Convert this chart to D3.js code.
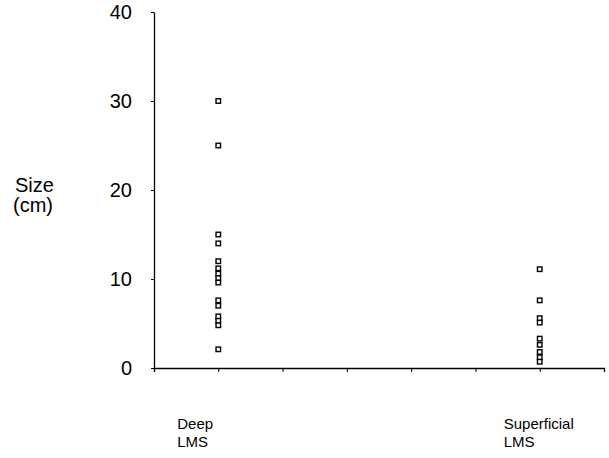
<!DOCTYPE html>
<html>
<head>
<meta charset="utf-8">
<script src="https://cdn.jsdelivr.net/npm/d3@7"></script>
<style>
  body { margin: 0; background: #fff; }
  text { font-family: Arial, "Liberation Sans", sans-serif; fill: #000; }
</style>
</head>
<body>
<svg id="chart"></svg>
<script>
// values
const groups = ["Deep LMS", "Superficial LMS"];
const groupPos = [1, 6];
const labelShift = [-41, -36];
const deepSizes = [30, 25, 15, 14, 12, 11.2, 10.6, 10.1, 9.6, 7.6, 7.0, 5.8, 5.3, 4.8, 2.1];
const superficialSizes = [11.1, 7.6, 5.6, 5.1, 3.3, 2.6, 1.8, 1.2, 0.7];
const yTicks = [0, 10, 20, 30, 40];

const canvWidth = 609, canvHeight = 458;
const margin = { top: 12, right: 5, bottom: 90, left: 154 };
const width = canvWidth - margin.left - margin.right;
const height = canvHeight - margin.top - margin.bottom;

const svg = d3.select("#chart")
    .attr("width", canvWidth)
    .attr("height", canvHeight)
    .append("g")
    .attr("transform", "translate(" + margin.left + "," + margin.top + ")");

const x = d3.scaleLinear().domain([0, 7]).range([0, width]);
const y = d3.scaleLinear().domain([0, 40]).range([height, 0]);

// x axis, ticks only
const xAxis = svg.append("g")
    .attr("transform", "translate(0," + height + ")")
    .call(d3.axisBottom(x).ticks(7).tickSize(4).tickFormat(""));
xAxis.select(".domain").attr("stroke-width", 1.3);

// y axis
const yAxis = svg.append("g")
    .call(d3.axisLeft(y).tickValues(yTicks).tickSize(3).tickSizeOuter(0).tickPadding(19));
yAxis.select(".domain").attr("stroke-width", 1.3);
yAxis.selectAll("text").style("font-size", "20px");

// points
const points = [];
deepSizes.forEach(v => points.push({ g: 0, v: v }));
superficialSizes.forEach(v => points.push({ g: 1, v: v }));

const s = 4.5;
svg.selectAll(".pt")
    .data(points)
    .enter().append("rect")
    .attr("class", "pt")
    .attr("x", d => x(groupPos[d.g]) - s / 2)
    .attr("y", d => y(d.v) - s / 2)
    .attr("width", s)
    .attr("height", s)
    .attr("fill", "#fff")
    .attr("stroke", "#000")
    .attr("stroke-width", 1.4);

// category labels under the axis
const cats = svg.selectAll(".cat")
    .data(groups)
    .enter().append("text")
    .attr("class", "cat")
    .attr("x", (d, i) => x(groupPos[i]) + labelShift[i])
    .attr("y", height + 61)
    .style("font-size", "15px");
cats.append("tspan").text(d => d.split(" ")[0]);
cats.append("tspan")
    .attr("x", (d, i) => x(groupPos[i]) + labelShift[i])
    .attr("dy", 18)
    .text(d => d.split(" ")[1]);

// y axis title
const yt = d3.select("#chart").append("text")
    .attr("x", 15)
    .attr("y", 192)
    .style("font-size", "20px");
yt.append("tspan").text("Size");
yt.append("tspan").attr("x", 13).attr("dy", 20).text("(cm)");
</script>
</body>
</html>
